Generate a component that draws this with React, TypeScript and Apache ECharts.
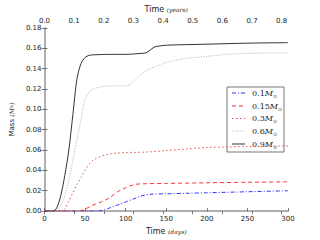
import React, { useEffect, useRef } from "react";
import * as echarts from "echarts";

const masses = ["0.1", "0.15", "0.3", "0.6", "0.9"];

const days01 = [0, 65, 70, 80, 90, 100, 110, 120, 130, 150, 175, 200, 250, 300];
const mass01 = [0, 0, 0.0005, 0.003, 0.006, 0.009, 0.012, 0.015, 0.0165, 0.017, 0.0175, 0.018, 0.019, 0.02];

const days015 = [0, 40, 45, 50, 55, 60, 70, 80, 90, 100, 110, 120, 150, 200, 250, 300];
const mass015 = [0, 0, 0.0005, 0.002, 0.004, 0.006, 0.009, 0.013, 0.019, 0.023, 0.026, 0.0268, 0.0272, 0.0278, 0.0283, 0.0288];

const days03 = [0, 20, 25, 30, 35, 40, 45, 50, 55, 60, 70, 80, 90, 100, 125, 150, 175, 200, 225, 250, 300];
const mass03 = [0, 0, 0.002, 0.01, 0.018, 0.026, 0.033, 0.04, 0.046, 0.05, 0.054, 0.056, 0.057, 0.0575, 0.058, 0.0595, 0.061, 0.0625, 0.063, 0.0635, 0.064];

const days06 = [0, 15, 20, 25, 30, 35, 40, 45, 50, 55, 60, 70, 80, 100, 105, 110, 120, 130, 140, 150, 175, 200, 225, 250, 300];
const mass06 = [0, 0, 0.005, 0.015, 0.03, 0.05, 0.07, 0.09, 0.11, 0.117, 0.12, 0.122, 0.123, 0.123, 0.124, 0.128, 0.135, 0.14, 0.143, 0.146, 0.15, 0.152, 0.154, 0.155, 0.1555];

const days09 = [0, 10, 15, 20, 25, 30, 35, 40, 45, 50, 55, 60, 80, 100, 120, 125, 130, 135, 140, 150, 200, 250, 300];
const mass09 = [0, 0, 0.003, 0.015, 0.035, 0.06, 0.095, 0.13, 0.145, 0.151, 0.153, 0.1535, 0.154, 0.154, 0.155, 0.1555, 0.158, 0.161, 0.162, 0.163, 0.164, 0.165, 0.1655];

const dayTicks = [0, 50, 100, 150, 200, 250, 300];
const yearTicks = ["0.0", "0.1", "0.2", "0.3", "0.4", "0.5", "0.6", "0.7", "0.8"];

const frame = "#aaaaaa";
const tickFont = { fontFamily: "DejaVu Sans", fontSize: 7, color: "#222" };

function pairs(xs: number[], ys: number[]) {
  return xs.map((x, i) => [x, ys[i]]);
}

export default function App() {
  const ref = useRef<HTMLDivElement>(null);
  useEffect(() => {
    if (!ref.current) return;
    const chart = echarts.init(ref.current, null, { renderer: "svg" });
    const seriesStyle = [
      { data: pairs(days01, mass01), color: "#3333ff", type: [4, 2, 1, 2] },
      { data: pairs(days015, mass015), color: "#ff3333", type: [4, 3] },
      { data: pairs(days03, mass03), color: "#e05050", type: [1.5, 2.5] },
      { data: pairs(days06, mass06), color: "#b0b0b0", type: [1, 1.5] },
      { data: pairs(days09, mass09), color: "#333333", type: "solid" as any },
    ];
    const axisLine = { show: true, lineStyle: { color: frame, width: 1.5 } };
    const axisTick = { show: true, inside: true, length: 3, lineStyle: { color: "#555", width: 0.8 } };

    const legendTop = 87;
    const rowY = [93, 106, 118.5, 131, 144];
    const legendChildren: any[] = [
      {
        type: "rect",
        shape: { x: 227, y: legendTop, width: 57, height: 65 },
        style: { fill: "#fff", stroke: "#777", lineWidth: 1 },
      },
    ];
    masses.forEach((m, i) => {
      const s = seriesStyle[i];
      legendChildren.push({
        type: "line",
        shape: { x1: 232, y1: rowY[i], x2: 245, y2: rowY[i] },
        style: {
          stroke: s.color,
          lineWidth: 1,
          lineDash: Array.isArray(s.type) ? s.type : null,
        },
      });
      legendChildren.push({
        type: "text",
        x: 252,
        y: rowY[i],
        style: {
          text: `{n|${m}}{m|M}{s|⊙}`,
          verticalAlign: "middle",
          rich: {
            n: { fontFamily: "DejaVu Serif", fontSize: 8, fill: "#222" },
            m: { fontFamily: "DejaVu Serif", fontStyle: "italic", fontSize: 8, fill: "#222" },
            s: { fontFamily: "DejaVu Sans", fontSize: 5, fill: "#444", padding: [5, 0, 0, 0] },
          },
        },
      });
    });

    chart.setOption({
      animation: false,
      backgroundColor: "#ffffff",
      grid: { left: 40, right: 32, top: 23, bottom: 25 },
      graphic: [{ type: "group", z: 100, children: legendChildren }],
      xAxis: [
        {
          type: "value",
          min: 0,
          max: 300,
          interval: 50,
          position: "bottom",
          name: "{a|Time }{b|(days)}",
          nameLocation: "middle",
          nameGap: 14,
          nameTextStyle: {
            rich: {
              a: { fontFamily: "DejaVu Sans", fontSize: 8, color: "#222" },
              b: { fontFamily: "DejaVu Serif", fontStyle: "italic", fontSize: 6, color: "#222" },
            },
          },
          axisLine,
          axisTick,
          splitLine: { show: false },
          axisLabel: { ...tickFont, margin: 4, formatter: (v: number) => (dayTicks.includes(v) ? String(v) : "") },
        },
        {
          type: "value",
          min: 0,
          max: 300 / 365.25,
          interval: 0.1,
          position: "top",
          name: "{a|Time }{b|(years)}",
          nameLocation: "middle",
          nameGap: 14,
          nameTextStyle: {
            rich: {
              a: { fontFamily: "DejaVu Sans", fontSize: 8, color: "#222" },
              b: { fontFamily: "DejaVu Serif", fontStyle: "italic", fontSize: 6, color: "#222" },
            },
          },
          axisLine,
          axisTick,
          splitLine: { show: false },
          axisLabel: {
            ...tickFont,
            margin: 3,
            showMaxLabel: false,
            formatter: (v: number) => {
              const s = v.toFixed(1);
              return yearTicks.includes(s) && v < 0.81 ? s : "";
            },
          },
        },
      ],
      yAxis: [
        {
          type: "value",
          min: 0,
          max: 0.18,
          interval: 0.02,
          position: "left",
          name: "{a|Mass }{b|(M}{c|⊙}{b|)}",
          nameLocation: "middle",
          nameRotate: 90,
          nameGap: 25,
          nameTextStyle: {
            rich: {
              a: { fontFamily: "DejaVu Sans", fontSize: 7, color: "#222" },
              b: { fontFamily: "DejaVu Serif", fontStyle: "italic", fontSize: 6, color: "#222" },
              c: { fontFamily: "DejaVu Sans", fontSize: 4, color: "#222" },
            },
          },
          axisLine,
          axisTick,
          splitLine: { show: false },
          axisLabel: { ...tickFont, margin: 3, formatter: (v: number) => v.toFixed(2) },
        },
        {
          type: "value",
          min: 0,
          max: 0.18,
          interval: 0.02,
          position: "right",
          axisLine,
          axisTick,
          splitLine: { show: false },
          axisLabel: { show: false },
        },
      ],
      series: seriesStyle.map((s, i) => ({
        name: masses[i],
        type: "line",
        xAxisIndex: 0,
        yAxisIndex: 0,
        symbol: "none",
        smooth: 0.3,
        data: s.data,
        lineStyle: { color: s.color, width: 1, type: s.type },
        itemStyle: { color: s.color },
        z: 2,
      })),
    });
    return () => chart.dispose();
  }, []);
  return (
    <div
      ref={ref}
      style={{ position: "fixed", left: 0, top: 0, width: 320, height: 240, background: "#fff" }}
    />
  );
}
